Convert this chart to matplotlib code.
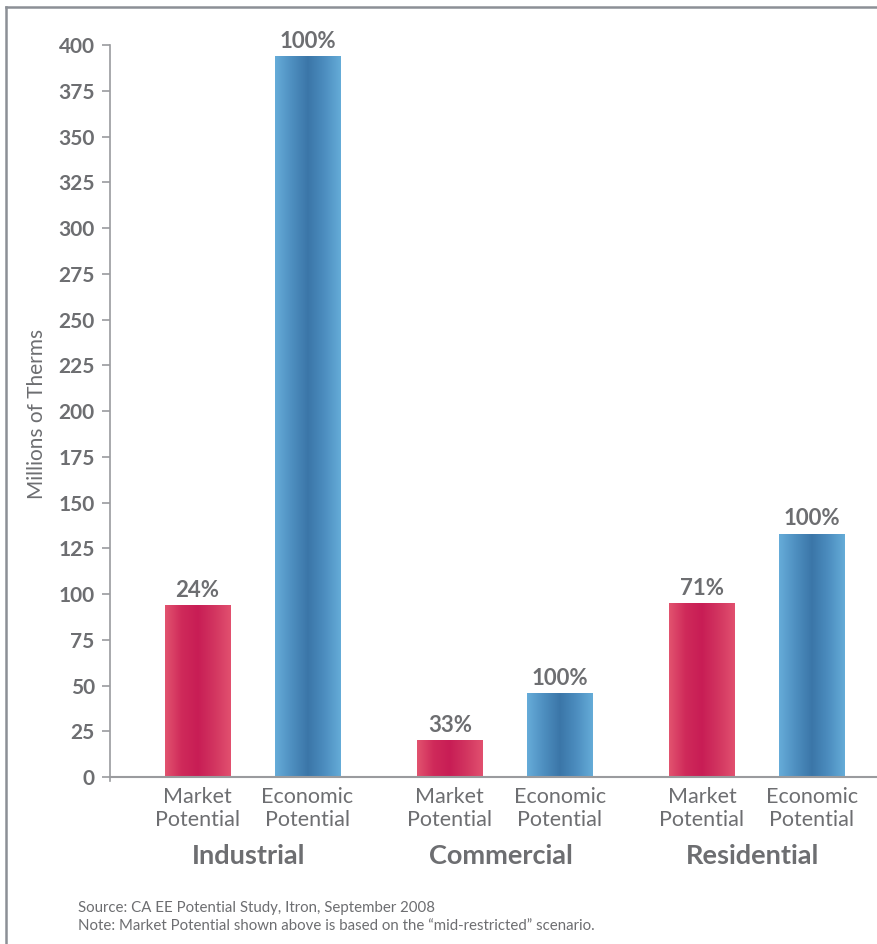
import numpy as np
import matplotlib
matplotlib.use("Agg")
import matplotlib.pyplot as plt
from matplotlib.colors import LinearSegmentedColormap
from matplotlib.lines import Line2D

plt.rcParams['font.family'] = ['Lato', 'DejaVu Sans']

# Data
sectors = ["Industrial", "Commercial", "Residential"]
bar_kinds = ["Market\nPotential", "Economic\nPotential"]
market_potential = [94, 20, 95]          # millions of therms
economic_potential = [394, 46, 133]      # millions of therms
market_pct = ["24%", "33%", "71%"]
economic_pct = ["100%", "100%", "100%"]
y_ticks = list(range(0, 401, 25))

TEXT = "#6d6e71"
AXIS = "#9a9b9e"

fig = plt.figure(figsize=(8.78, 9.44), dpi=100)
ax = fig.add_axes([110 / 878, 0.1730, 1 - 110 / 878, 0.9523 - 0.1730])

group_x = np.arange(len(sectors))
offset = 0.218
width = 0.258

pink = LinearSegmentedColormap.from_list(
    "pink", ["#e2536f", "#cf2a5a", "#c81d55", "#d23560", "#e2506f"])
blue = LinearSegmentedColormap.from_list(
    "blue", ["#66acd9", "#4e8fc0", "#3b76a8", "#4c8dbf", "#65acd8"])

grad = np.linspace(0, 1, 256).reshape(1, -1)

bars_m = ax.bar(group_x - offset, market_potential, width, color="none", edgecolor="none")
bars_e = ax.bar(group_x + offset, economic_potential, width, color="none", edgecolor="none")

for bars, cmap in ((bars_m, pink), (bars_e, blue)):
    for b in bars:
        x0, y0 = b.get_x(), b.get_y()
        w, h = b.get_width(), b.get_height()
        im = ax.imshow(grad, cmap=cmap, aspect="auto",
                       extent=(x0, x0 + w, y0, y0 + h), zorder=2)
        im.set_clip_path(b)

for bars, labels in ((bars_m, market_pct), (bars_e, economic_pct)):
    for b, lab in zip(bars, labels):
        ax.annotate(lab, (b.get_x() + b.get_width() / 2, b.get_height()),
                    xytext=(0, 3), textcoords="offset points",
                    ha="center", va="bottom", fontsize=16, fontweight="bold",
                    color=TEXT, annotation_clip=False)

ax.set_xlim(-0.565, 2.48)
ax.set_ylim(-2, 400)

ax.tick_params(axis="y", length=6, width=1.2, color=AXIS, pad=5,
               labelsize=15, labelcolor=TEXT)
ax.tick_params(axis="x", length=0, pad=7, labelsize=15.5, labelcolor=TEXT)
ax.set_yticks(y_ticks)
ax.set_yticklabels([str(t) for t in y_ticks], fontweight="bold")

xt = np.concatenate([[g - offset, g + offset] for g in group_x])
ax.set_xticks(xt)
ax.set_xticklabels(bar_kinds * len(sectors))
for lbl in ax.get_xticklabels():
    lbl.set_linespacing(1.22)
    lbl.set_fontsize(15.5)
    lbl.set_color(TEXT)

for s in ("top", "right"):
    ax.spines[s].set_visible(False)
ax.spines["left"].set_color(AXIS)
ax.spines["left"].set_linewidth(1.2)
ax.spines["left"].set_bounds(-2, 400)
ax.spines["bottom"].set_color(AXIS)
ax.spines["bottom"].set_linewidth(1.5)
ax.spines["bottom"].set_position(("data", 0))

fig.text(37 / 878, 1 - 414 / 944, "Millions of Therms", rotation=90,
         ha="center", va="center", fontsize=15, color=TEXT)

for g, name in zip(group_x, sectors):
    ax.annotate(name, (g, 0), xycoords="data", xytext=(-3, -57),
                textcoords="offset points", ha="center", va="center",
                fontsize=19.5, fontweight="bold", color=TEXT, annotation_clip=False)

fig.text(78 / 878, 1 - 908 / 944, "Source: CA EE Potential Study, Itron, September 2008",
         fontsize=10.8, color=TEXT, va="center")
fig.text(78 / 878, 1 - 926 / 944,
         "Note: Market Potential shown above is based on the \u201cmid-restricted\u201d scenario.",
         fontsize=10.8, color=TEXT, va="center")

# Frame lines along the top and left edges
fig.add_artist(Line2D([6 / 878, 1], [1 - 6.5 / 944] * 2, transform=fig.transFigure,
                      color="#8c9096", lw=1.8))
fig.add_artist(Line2D([6.5 / 878] * 2, [0, 1 - 6.5 / 944], transform=fig.transFigure,
                      color="#8c9096", lw=1.8))

fig.savefig("out.png", dpi=100)
